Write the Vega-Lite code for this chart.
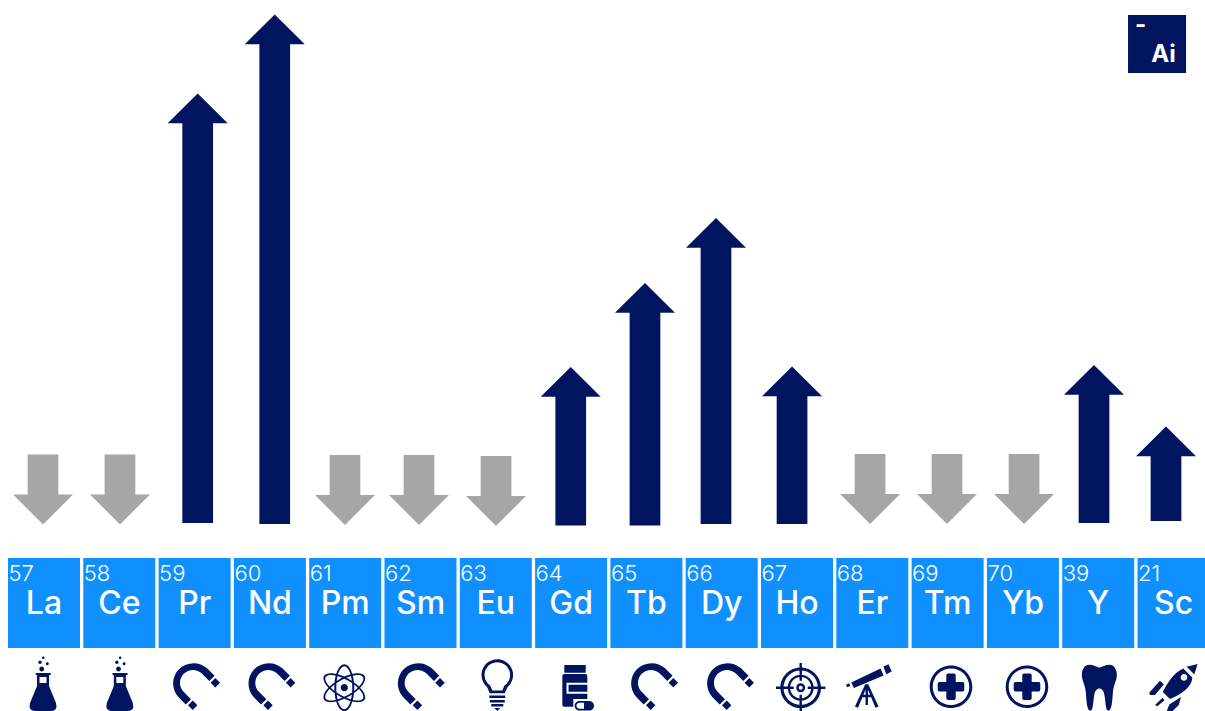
{"$schema":"https://vega.github.io/schema/vega-lite/v6.json","width":1205,"height":711,"padding":0,"autosize":{"type":"fit","contains":"padding"},"background":"white","config":{"view":{"stroke":null}},
"datasets":{"elements":[
{"symbol":"La","number":"57","slot":0,"direction":"down","arrowX":-0.013,"start":13.9,"end":-0.1,"iconX":-0.013,"icon":"flask"},
{"symbol":"Ce","number":"58","slot":1,"direction":"down","arrowX":1.009,"start":13.9,"end":-0.1,"iconX":1.007,"icon":"flask"},
{"symbol":"Pr","number":"59","slot":2,"direction":"up","arrowX":2.041,"start":0.2,"end":86.1,"iconX":1.975,"icon":"magnet"},
{"symbol":"Nd","number":"60","slot":3,"direction":"up","arrowX":3.064,"start":0,"end":101.9,"iconX":2.975,"icon":"magnet"},
{"symbol":"Pm","number":"61","slot":4,"direction":"down","arrowX":3.997,"start":13.8,"end":-0.2,"iconX":3.988,"icon":"atom"},
{"symbol":"Sm","number":"62","slot":5,"direction":"down","arrowX":4.98,"start":13.8,"end":-0.2,"iconX":4.959,"icon":"magnet"},
{"symbol":"Eu","number":"63","slot":6,"direction":"down","arrowX":6.003,"start":13.6,"end":-0.4,"iconX":6.02,"icon":"bulb"},
{"symbol":"Gd","number":"64","slot":7,"direction":"up","arrowX":6.995,"start":-0.3,"end":31.4,"iconX":7.052,"icon":"pills"},
{"symbol":"Tb","number":"65","slot":8,"direction":"up","arrowX":7.981,"start":-0.3,"end":48.2,"iconX":8.057,"icon":"magnet"},
{"symbol":"Dy","number":"66","slot":9,"direction":"up","arrowX":8.924,"start":0,"end":61.2,"iconX":9.066,"icon":"magnet"},
{"symbol":"Ho","number":"67","slot":10,"direction":"up","arrowX":9.934,"start":0,"end":31.5,"iconX":10.049,"icon":"target"},
{"symbol":"Er","number":"68","slot":11,"direction":"down","arrowX":10.97,"start":14,"end":0,"iconX":10.926,"icon":"telescope"},
{"symbol":"Tm","number":"69","slot":12,"direction":"down","arrowX":11.992,"start":14,"end":0,"iconX":12.045,"icon":"medical"},
{"symbol":"Yb","number":"70","slot":13,"direction":"down","arrowX":13.015,"start":14,"end":0,"iconX":13.054,"icon":"medical"},
{"symbol":"Y","number":"39","slot":14,"direction":"up","arrowX":13.944,"start":0.2,"end":31.8,"iconX":14.015,"icon":"tooth"},
{"symbol":"Sc","number":"21","slot":15,"direction":"up","arrowX":14.9,"start":0.6,"end":19.5,"iconX":14.997,"icon":"rocket"}
],"badge":[{"slot":14.781,"symbol":"Ai","dash":"-"}]},
"data":{"name":"elements"},
"encoding":{"x":{"field":"slot","type":"quantitative","axis":null,"scale":{"domain":[-0.5843,15.418],"nice":false,"zero":false}}},
"layer":[
{"transform":[{"filter":"datum.direction==='up'"}],"mark":{"type":"rule","color":"#00145F","strokeWidth":30.7,"strokeCap":"butt","yOffset":28.5,"clip":true},"encoding":{"x":{"field":"arrowX","type":"quantitative"},"y":{"field":"end","type":"quantitative","axis":null,"scale":{"domain":[-37.4,104.8],"nice":false,"zero":false}},"y2":{"field":"start"}}},
{"transform":[{"filter":"datum.direction==='up'"}],"mark":{"type":"point","filled":true,"opacity":1,"color":"#00145F","size":4,"shape":"M0,0L30,29.7L-30,29.7Z","clip":true},"encoding":{"x":{"field":"arrowX","type":"quantitative"},"y":{"field":"end","type":"quantitative"}}},
{"transform":[{"filter":"datum.direction==='down'"}],"mark":{"type":"rule","color":"#A6A6A6","strokeWidth":30.7,"strokeCap":"butt","yOffset":-29,"clip":true},"encoding":{"x":{"field":"arrowX","type":"quantitative"},"y":{"field":"end","type":"quantitative"},"y2":{"field":"start"}}},
{"transform":[{"filter":"datum.direction==='down'"}],"mark":{"type":"point","filled":true,"opacity":1,"color":"#A6A6A6","size":4,"shape":"M0,0L30,-30L-30,-30Z","clip":true},"encoding":{"x":{"field":"arrowX","type":"quantitative"},"y":{"field":"end","type":"quantitative"}}},
{"mark":{"type":"point","filled":true,"opacity":1,"color":"#1090FF","size":4,"shape":"M-36,-45H36V45H-36Z","clip":true},"encoding":{"y":{"datum":-15.8,"type":"quantitative"}}},
{"mark":{"type":"text","color":"white","font":"Inter","fontSize":32,"fontWeight":500,"align":"center","baseline":"alphabetic","clip":true},"encoding":{"y":{"datum":-18,"type":"quantitative"},"text":{"field":"symbol"}}},
{"mark":{"type":"text","color":"white","font":"Inter","fontSize":22,"fontWeight":300,"align":"left","baseline":"alphabetic","dx":-35.5,"clip":true},"encoding":{"y":{"datum":-11.4,"type":"quantitative"},"text":{"field":"number"}}},
{"mark":{"type":"point","filled":true,"opacity":1,"color":"#00145F","size":4,"clip":true},"encoding":{"x":{"field":"iconX","type":"quantitative"},"y":{"datum":-32.4,"type":"quantitative"},"shape":{"field":"icon","type":"nominal","legend":null,"scale":{"domain":["flask","magnet","atom","bulb","pills","target","telescope","medical","tooth","rocket"],"range":[
"M-1,-28.3A1.3,1.3 0 1 1 1.6,-28.3A1.3,1.3 0 1 1 -1,-28.3ZM-4.7,-23.7A1.7,1.7 0 1 1 -1.3,-23.7A1.7,1.7 0 1 1 -4.7,-23.7ZM2.8,-22.3A1.5,1.5 0 1 1 5.8,-22.3A1.5,1.5 0 1 1 2.8,-22.3ZM-3.7,-17A2.4,2.4 0 1 1 1.1,-17A2.4,2.4 0 1 1 -3.7,-17ZM-7.3,-13H7.7V-11H6V0L13,17Q15,25 8,25H-8Q-15,25 -13,17L-6,0V-11H-7.3ZM-3.5,-9V-3H3.5V-9Z",
"M14.4,-17.7A20.4,20.4 0 0 0 -14.4,11.1L-7,18.55L-1.7,13.25L-9.12,5.82A12.9,12.9 0 0 1 9.12,-12.42L16.55,-5L21.85,-10.3ZM22.6,-8L27.3,-3.3L22.6,1.4L17.9,-3.3ZM0,14.6L4.7,19.3L0,24L-4.7,19.3Z",
"M-3.6,1.7A3.6,3.6 0 1 1 3.6,1.7A3.6,3.6 0 1 1 -3.6,1.7ZM0,-21.8A23.5,10 90 0 1 0,25.2A23.5,10 90 0 1 0,-21.8ZM0,-19.8A21.5,8 90 0 0 0,23.2A21.5,8 90 0 0 0,-19.8ZM20.35,13.45A23.5,10 30 0 1 -20.35,-10.05A23.5,10 30 0 1 20.35,13.45ZM18.62,12.45A21.5,8 30 0 0 -18.62,-9.05A21.5,8 30 0 0 18.62,12.45ZM20.35,-10.05A23.5,10 -30 0 1 -20.35,13.45A23.5,10 -30 0 1 20.35,-10.05ZM18.62,-9.05A21.5,8 -30 0 0 -18.62,12.45A21.5,8 -30 0 0 18.62,-9.05Z",
"M-10.3,1A15.8,15.8 0 1 1 10.3,1L7.5,7.3L-7.5,7.3ZM-7,-0.3L-5,4.5L5,4.5L7,-0.3A12.8,12.8 0 1 0 -7,-0.3ZM-8,9.5H8V12H-8ZM-7.5,14H7.5V16.5H-7.5ZM-6,18H6V20.5H-6ZM-3,22H3L0,25Z",
"M-10.7,-21H10.7V-13.3H-10.7ZM-10.7,-12H10.3Q12.3,-12 12.3,-10V13H-1.7V20.7H-10.7Q-12.7,20.7 -12.7,18.7V-10Q-12.7,-12 -10.7,-12ZM-8.5,-3.3V7.7H12.3V-3.3ZM-6.5,-1.3H12.3V5.7H-6.5ZM4.4,14.9H14.2A4.8,4.8 0 0 1 14.2,24.5H4.4A4.8,4.8 0 0 1 4.4,14.9ZM4.4,16.7A3,3 0 0 0 4.4,22.7H9V16.7Z",
"M-20.3,1.7A20.3,20.3 0 1 1 20.3,1.7A20.3,20.3 0 1 1 -20.3,1.7ZM-17.2,1.7A17.2,17.2 0 1 0 17.2,1.7A17.2,17.2 0 1 0 -17.2,1.7ZM-13,1.7A13,13 0 1 1 13,1.7A13,13 0 1 1 -13,1.7ZM-10.6,1.7A10.6,10.6 0 1 0 10.6,1.7A10.6,10.6 0 1 0 -10.6,1.7ZM-4.5,1.7A4.5,4.5 0 1 1 4.5,1.7A4.5,4.5 0 1 1 -4.5,1.7ZM-2,1.7A2,2 0 1 0 2,1.7A2,2 0 1 0 -2,1.7ZM-24.7,0.5H-7V2.9H-24.7ZM7,0.5H24.7V2.9H7ZM-1.2,-23H1.2V-5.3H-1.2ZM-1.2,8.7H1.2V26.4H-1.2Z",
"M-15.5,-3.5L13.8,-17.5L16.9,-10.5L-12.8,2ZM16.7,-19.4L21.7,-21.7L25,-14.4L19.5,-11.7ZM-20.7,-1.2L-17.5,-2.7L-16.5,0.1L-19.7,1.3ZM-1.5,-1.7L1,-1.7L-8.7,21.8L-11.8,20.6ZM-1,-1.7L1.5,-1.7L11.8,20.6L8.7,21.8ZM-1.2,-1.7H1.2V19H-1.2ZM-6,8.8H6V11.3H-6Z",
"M-21.3,0.7A21.3,21.3 0 1 1 21.3,0.7A21.3,21.3 0 1 1 -21.3,0.7ZM-18.3,0.7A18.3,18.3 0 1 0 18.3,0.7A18.3,18.3 0 1 0 -18.3,0.7ZM-3,-12.6H3Q4.7,-12.6 4.7,-10.9V-4H11.6Q13.3,-4 13.3,-2.3V3.7Q13.3,5.4 11.6,5.4H4.7V12.3Q4.7,14 3,14H-3Q-4.7,14 -4.7,12.3V5.4H-11.6Q-13.3,5.4 -13.3,3.7V-2.3Q-13.3,-4 -11.6,-4H-4.7V-10.9Q-4.7,-12.6 -3,-12.6Z",
"M0,-18.3C3,-19.3 6,-21.3 10,-21.3C15,-21.3 17.5,-16.3 17.5,-11.3C17.5,-5.3 14,-1.3 13.5,6.7C13,13.7 12.5,24.7 9,24.7C6,24.7 6.5,15.7 5,8.7C4.5,4.7 2.5,2.4 0,2.4C-2.5,2.4 -4.5,4.7 -5,8.7C-6.5,15.7 -6,24.7 -9,24.7C-12.5,24.7 -13,13.7 -13.5,6.7C-14,-1.3 -17.5,-5.3 -17.5,-11.3C-17.5,-16.3 -15,-21.3 -10,-21.3C-6,-21.3 -3,-19.3 0,-18.3Z",
"M13.3,-19.3L24.3,-22L21,-11.6ZM10,-17.6L19,-8.6C19,0 9,8 -3.3,13L-10.5,6C-6,-3 0,-13 10,-17.6ZM7.4,-8.6A3.3,3.3 0 1 0 14,-8.6A3.3,3.3 0 1 0 7.4,-8.6ZM-24,6.4L-13.3,-5.3L-9.5,-1.6L-18.3,9L-23.3,9ZM7.7,11L5.5,19L-1.7,26L-6.5,25L-4,18.5ZM-18.3,18.9L-10.7,11.7L-8.8,14.2L-16,20.2Z"
]}}}},
{"data":{"name":"badge"},"mark":{"type":"point","filled":true,"opacity":1,"color":"#00145F","size":4,"shape":"M-29,-29H29V29H-29Z","clip":true},"encoding":{"y":{"datum":96,"type":"quantitative"}}},
{"data":{"name":"badge"},"mark":{"type":"text","color":"white","font":"Inter","fontSize":24,"fontWeight":700,"align":"center","baseline":"alphabetic","dx":6.5,"clip":true},"encoding":{"y":{"datum":92.46,"type":"quantitative"},"text":{"field":"symbol"}}},
{"data":{"name":"badge"},"mark":{"type":"text","color":"white","font":"Inter","fontSize":24,"fontWeight":700,"align":"center","baseline":"alphabetic","dx":-16.5,"clip":true},"encoding":{"y":{"datum":98.2,"type":"quantitative"},"text":{"field":"dash"}}}
]}
